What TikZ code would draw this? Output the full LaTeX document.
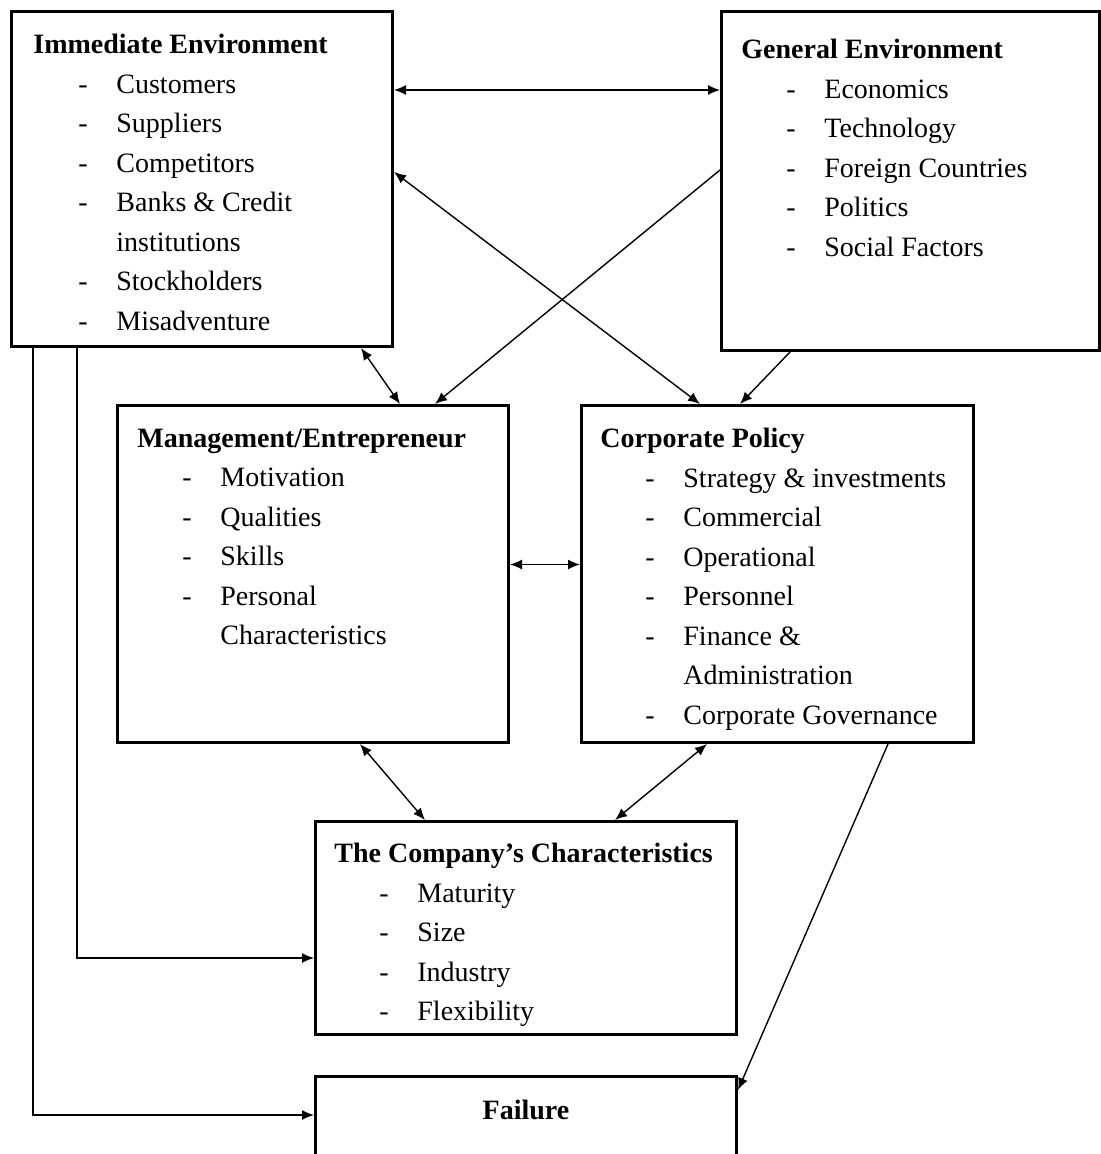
\documentclass[tikz,border=0pt]{standalone}
\usepackage{fontspec}
\setmainfont{Liberation Serif}
\usetikzlibrary{arrows.meta}
\tikzstyle{block} = [rectangle, draw=black, line width=1.5pt, anchor=north west, inner sep=0pt]
\tikzstyle{listtext} = [anchor=north west, align=left, inner sep=0pt, font=\fontsize{14}{19.75}\selectfont]
\tikzstyle{arrow} = [line width=0.7pt, -{Latex[length=6pt,width=5pt]}]
\tikzstyle{dblarrow} = [line width=0.7pt, {Latex[length=6pt,width=5pt]}-{Latex[length=6pt,width=5pt]}]
\newcommand{\itm}[1]{\hspace*{22.5pt}\makebox[19pt][l]{-}#1}
\newcommand{\cnt}[1]{\hspace*{41.5pt}#1}

\begin{document}
\begin{tikzpicture}[x=0.5pt, y=-0.5pt]
\useasboundingbox (0,0) rectangle (1100,1154);

% boxes
\node (imm) [block, minimum width=190.5pt, minimum height=167.5pt] at (10,10) {};
\node (gen) [block, minimum width=189pt, minimum height=169.5pt] at (720,10) {};
\node (mgmt) [block, minimum width=195.5pt, minimum height=168.5pt] at (116,404) {};
\node (corp) [block, minimum width=196pt, minimum height=168.5pt] at (580,404) {};
\node (comp) [block, minimum width=210.5pt, minimum height=106.5pt] at (314,820) {};
\node (fail) [block, minimum width=210.5pt, minimum height=50pt] at (314,1075) {};

% texts
\node (immtext) [listtext] at ([xshift=11.5pt, yshift=-12pt]imm.north west)
  {\textbf{Immediate Environment}\\ \itm{Customers}\\ \itm{Suppliers}\\ \itm{Competitors}\\
   \itm{Banks \& Credit}\\ \cnt{institutions}\\ \itm{Stockholders}\\ \itm{Misadventure}};
\node (gentext) [listtext] at ([xshift=10.5pt, yshift=-14.5pt]gen.north west)
  {\textbf{General Environment}\\ \itm{Economics}\\ \itm{Technology}\\ \itm{Foreign Countries}\\
   \itm{Politics}\\ \itm{Social Factors}};
\node (mgmttext) [listtext] at ([xshift=10.5pt, yshift=-12.2pt]mgmt.north west)
  {\textbf{Management/Entrepreneur}\\ \itm{Motivation}\\ \itm{Qualities}\\ \itm{Skills}\\
   \itm{Personal}\\ \cnt{Characteristics}};
\node (corptext) [listtext] at ([xshift=10pt, yshift=-12pt]corp.north west)
  {\textbf{Corporate Policy}\\ \itm{Strategy \& investments}\\ \itm{Commercial}\\ \itm{Operational}\\
   \itm{Personnel}\\ \itm{Finance \&}\\ \cnt{Administration}\\ \itm{Corporate Governance}};
\node (comptext) [listtext] at ([xshift=10pt, yshift=-11.5pt]comp.north west)
  {\textbf{The Company’s Characteristics}\\ \itm{Maturity}\\ \itm{Size}\\ \itm{Industry}\\
   \itm{Flexibility}};
\node (failtext) [font=\fontsize{14}{19.75}\selectfont\bfseries] at ([yshift=-17.5pt]fail.north) {Failure};

% connectors
\draw [dblarrow] ([yshift=-40pt]imm.north east) -- ([yshift=-40pt]gen.north west);
\draw [dblarrow] ([yshift=-81pt]imm.north east) -- ([xshift=60pt]corp.north west);
\draw [arrow] ([yshift=-80pt]gen.north west) -- ([xshift=159.5pt]mgmt.north west);
\draw [dblarrow] ([xshift=-16.5pt]imm.south east) -- ([xshift=142pt]mgmt.north west);
\draw [arrow] ([xshift=35pt]gen.south west) -- ([xshift=80pt]corp.north west);
\draw [dblarrow] ([yshift=4.75pt]mgmt.east) -- ([yshift=4.75pt]corp.west);
\draw [dblarrow] ([xshift=122pt]mgmt.south west) -- ([xshift=55.5pt]comp.north west);
\draw [dblarrow] ([xshift=63.5pt]corp.south west) -- ([xshift=150.5pt]comp.north west);
\draw [arrow] ([xshift=11.5pt]imm.south west) |- ([yshift=-20pt]fail.north west);
\draw [arrow] ([xshift=33.5pt]imm.south west) |- ([yshift=-69pt]comp.north west);
\draw [arrow] ([xshift=154pt]corp.south west) -- ([yshift=-7.5pt]fail.north east);

\end{tikzpicture}
\end{document}
